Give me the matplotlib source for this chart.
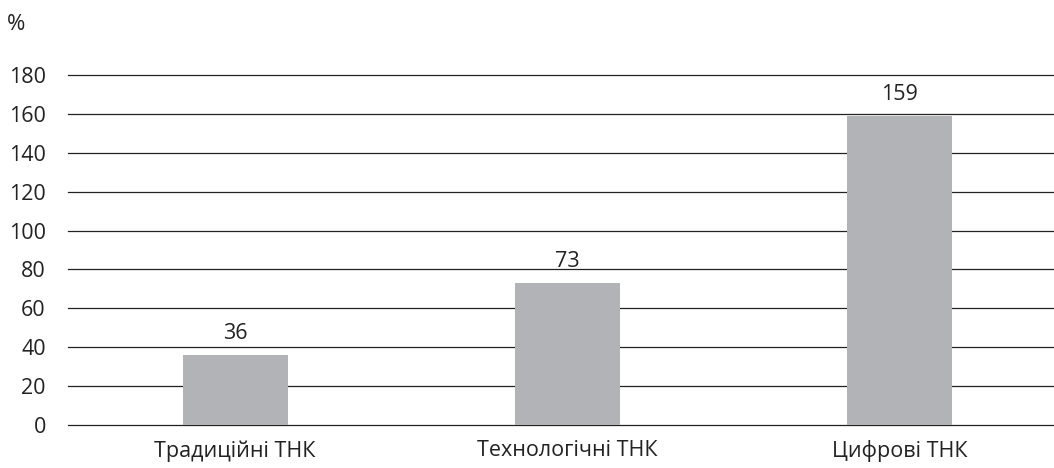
import matplotlib
matplotlib.use('Agg')
import matplotlib.pyplot as plt

categories = ['Традиційні ТНК', 'Технологічні ТНК', 'Цифрові ТНК']
values = [36, 73, 159]
yticks = [0, 20, 40, 60, 80, 100, 120, 140, 160, 180]

plt.rcParams['font.family'] = ['Open Sans', 'DejaVu Sans']

fig = plt.figure(figsize=(10.54, 4.68), dpi=100)
ax = fig.add_axes([68 / 1054, 1 - 425 / 468, 1 - 68 / 1054, 350 / 468])

x = range(len(categories))
bars = ax.bar(x, values, width=0.316, color='#b2b3b6', zorder=3)
for b, v in zip(bars, values):
    ax.annotate(str(v), (b.get_x() + b.get_width() / 2, v), xytext=(0, 8),
                textcoords='offset points', ha='center', va='bottom',
                fontsize=15.5, color='#222222')

ax.set_ylim(0, 180)
ax.set_yticks(yticks)
ax.set_xlim(-0.503, 2.465)
ax.set_xticks(list(x))
ax.set_xticklabels(categories)
for t in yticks:
    ax.axhline(t, color='#222222', linewidth=0.9, zorder=1, clip_on=False)
for s in ax.spines.values():
    s.set_visible(False)
ax.tick_params(axis='y', length=0, pad=16, labelsize=15.5, labelcolor='#222222')
ax.tick_params(axis='x', length=0, pad=11, labelsize=15.5, labelcolor='#222222')

fig.text(16 / 1054, 1 - 24 / 468, '%', ha='center', va='center', fontsize=16, color='#222222')

fig.savefig('out.png', dpi=100)
